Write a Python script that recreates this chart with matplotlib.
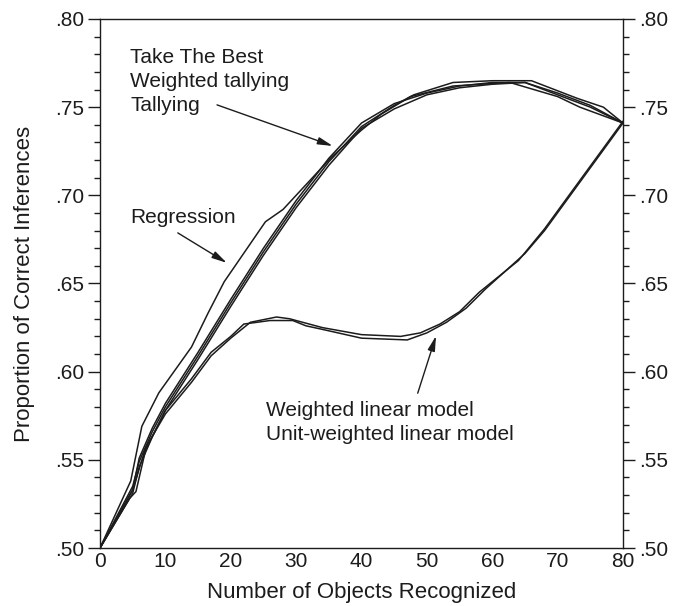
import numpy as np
import matplotlib
matplotlib.use('Agg')
import matplotlib.pyplot as plt
from matplotlib.ticker import MultipleLocator, FuncFormatter

plt.rcParams['font.family'] = ['Liberation Sans', 'DejaVu Sans']

# heuristics (upper group)
ttb_x = [0, 5, 6, 8, 10, 15, 20, 25, 30, 35, 40, 45, 48, 54, 60, 66, 73, 77, 80]
ttb_y = [0.500, 0.535, 0.549, 0.566, 0.580, 0.609, 0.639, 0.668, 0.695, 0.719, 0.739, 0.751, 0.757, 0.764, 0.765, 0.765, 0.755, 0.750, 0.741]

wt_x = [0, 5, 6, 8, 10, 15, 20, 25, 30, 35, 40, 45, 50, 55, 60, 65, 70, 75, 80]
wt_y = [0.500, 0.533, 0.551, 0.568, 0.582, 0.611, 0.641, 0.670, 0.697, 0.721, 0.741, 0.752, 0.758, 0.762, 0.764, 0.764, 0.758, 0.751, 0.741]

tally_x = [0, 5, 6, 8, 10, 15, 20, 25, 30, 35, 40, 45, 50, 55, 60, 65, 70, 75, 80]
tally_y = [0.500, 0.531, 0.546, 0.563, 0.578, 0.607, 0.637, 0.666, 0.693, 0.717, 0.738, 0.749, 0.757, 0.761, 0.763, 0.764, 0.757, 0.750, 0.741]

reg_x = [0, 4.7, 6.4, 9, 14, 16.5, 19, 25.3, 28, 35.5, 40, 43, 47.5, 54, 62.7, 70, 73.4, 80]
reg_y = [0.500, 0.538, 0.569, 0.588, 0.614, 0.633, 0.651, 0.685, 0.692, 0.722, 0.737, 0.746, 0.756, 0.762, 0.764, 0.756, 0.750, 0.741]

# linear models (lower group)
wlm_x = [0, 5, 7, 10, 14, 17, 20, 23, 27, 29, 31, 34, 40, 46, 49, 52, 55, 58, 64, 68, 80]
wlm_y = [0.500, 0.533, 0.557, 0.576, 0.594, 0.609, 0.619, 0.628, 0.631, 0.630, 0.628, 0.625, 0.621, 0.620, 0.622, 0.627, 0.634, 0.645, 0.663, 0.681, 0.742]

uwlm_x = [0, 4.5, 5.5, 7, 10, 14, 17, 20, 22, 26, 29.5, 31.5, 34, 40, 47, 50, 53, 56, 59, 65, 68, 80]
uwlm_y = [0.500, 0.528, 0.532, 0.556, 0.578, 0.596, 0.611, 0.620, 0.627, 0.629, 0.629, 0.626, 0.624, 0.619, 0.618, 0.622, 0.628, 0.636, 0.647, 0.667, 0.680, 0.741]

x_ticks = [0, 10, 20, 30, 40, 50, 60, 70, 80]

INK = '#1c1c1c'
FS = 15

fig = plt.figure(figsize=(6.75, 6.06), dpi=100)
ax = fig.add_axes([100 / 675, 1 - 548 / 606, 523 / 675, 529 / 606])

for xs, ys in [(ttb_x, ttb_y), (wt_x, wt_y), (tally_x, tally_y),
               (reg_x, reg_y), (wlm_x, wlm_y), (uwlm_x, uwlm_y)]:
    ax.plot(xs, ys, color=INK, lw=1.1, solid_joinstyle='miter')

ax.set_xlim(0, 80)
ax.set_ylim(0.50, 0.80)
ax.set_xticks(x_ticks)
ax.yaxis.set_major_locator(MultipleLocator(0.05))
ax.yaxis.set_minor_locator(MultipleLocator(0.01))
ax.yaxis.set_major_formatter(FuncFormatter(lambda v, p: f"{v:.2f}".lstrip('0')))

ax.tick_params(axis='x', length=0, pad=3, labelsize=FS, colors=INK)
ax.tick_params(axis='y', which='major', length=8.5, width=1, labelsize=FS,
               right=True, labelright=True, colors=INK, pad=3)
ax.tick_params(axis='y', which='minor', length=4, width=1, right=True, colors=INK)
for s in ax.spines.values():
    s.set_color(INK)
    s.set_linewidth(1)

ax.set_xlabel('Number of Objects Recognized', fontsize=FS + 1, color=INK, labelpad=8)
ax.set_ylabel('Proportion of Correct Inferences', fontsize=FS + 1, color=INK, labelpad=14)

# labels
for txt, yy in [('Take The Best', 0.7749), ('Weighted tallying', 0.7615), ('Tallying', 0.7480)]:
    ax.text(4.6, yy, txt, fontsize=FS, color=INK, va='baseline', ha='left')
ax.text(4.6, 0.6842, 'Regression', fontsize=FS, color=INK, va='baseline', ha='left')
ax.text(25.4, 0.5749, 'Weighted linear model', fontsize=FS, color=INK, va='baseline', ha='left')
ax.text(25.4, 0.5613, 'Unit-weighted linear model', fontsize=FS, color=INK, va='baseline', ha='left')

arrow = dict(arrowstyle='-|>,head_length=0.9,head_width=0.22', lw=1, color=INK,
             shrinkA=0, shrinkB=0)
ax.annotate('', xy=(35.6, 0.728), xytext=(17.9, 0.7513), arrowprops=arrow)
ax.annotate('', xy=(19.4, 0.6617), xytext=(11.9, 0.6787), arrowprops=arrow)
ax.annotate('', xy=(51.4, 0.6203), xytext=(48.6, 0.5878), arrowprops=arrow)

fig.savefig('out.png', dpi=100)
